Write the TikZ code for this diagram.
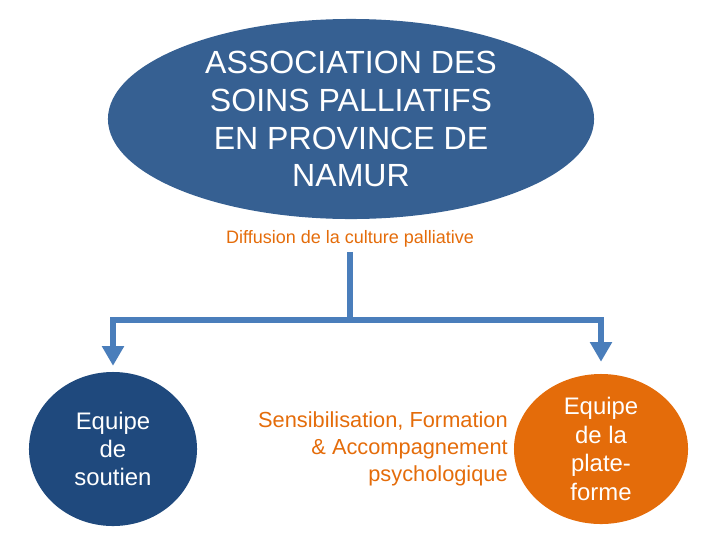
\documentclass[tikz,border=0pt]{standalone}
\usepackage{fontspec}
\setmainfont{Liberation Sans}
\usetikzlibrary{arrows.meta,shapes.geometric,positioning}
\definecolor{assocblue}{RGB}{54,96,146}
\definecolor{linkblue}{RGB}{74,126,187}
\definecolor{teamblue}{RGB}{31,73,125}
\definecolor{teamorange}{RGB}{228,108,10}

\begin{document}
\begin{tikzpicture}[x=0.025cm, y=-0.025cm,
    blob/.style={ellipse, fill=#1, text=white, align=center, inner sep=0pt},
    link/.style={line width=4pt, linkblue},
    arr/.style={link, -{Triangle[width=15pt,length=14pt]}}
]
\useasboundingbox (0,0) rectangle (720,540);
\node[blob=assocblue, minimum width=12.15cm, minimum height=5cm, font=\fontsize{22.8}{27}\selectfont] (assoc) at (351,119) {ASSOCIATION DES\\SOINS PALLIATIFS\\EN PROVINCE DE\\NAMUR};
\node[text=teamorange, inner sep=3pt, font=\fontsize{12.8}{15}\selectfont] (diffusion) at (350,239) {Diffusion de la culture palliative};
\node[blob=teamblue, minimum width=4.2cm, minimum height=3.85cm, font=\fontsize{17}{20}\selectfont] (soutien) at (113,449) {Equipe\\de\\soutien};
\node[text=teamorange, anchor=east, align=right, inner sep=0pt, font=\fontsize{15.5}{19}\selectfont] (sensib) at (508,449) {Sensibilisation, Formation\\\& Accompagnement\\psychologique};
\node[blob=teamorange, minimum width=4.35cm, minimum height=3.75cm, font=\fontsize{17}{20.5}\selectfont] (plateforme) at (601,449) {Equipe\\de la\\plate-\\forme};
\coordinate (split) at (350,320);

\draw[link] (diffusion.south) -- (split);
\draw[arr, shorten >=4.2pt] (split) -| (soutien.north);
\draw[arr, shorten >=8.5pt] (split) -| (plateforme.north);
\end{tikzpicture}
\end{document}
